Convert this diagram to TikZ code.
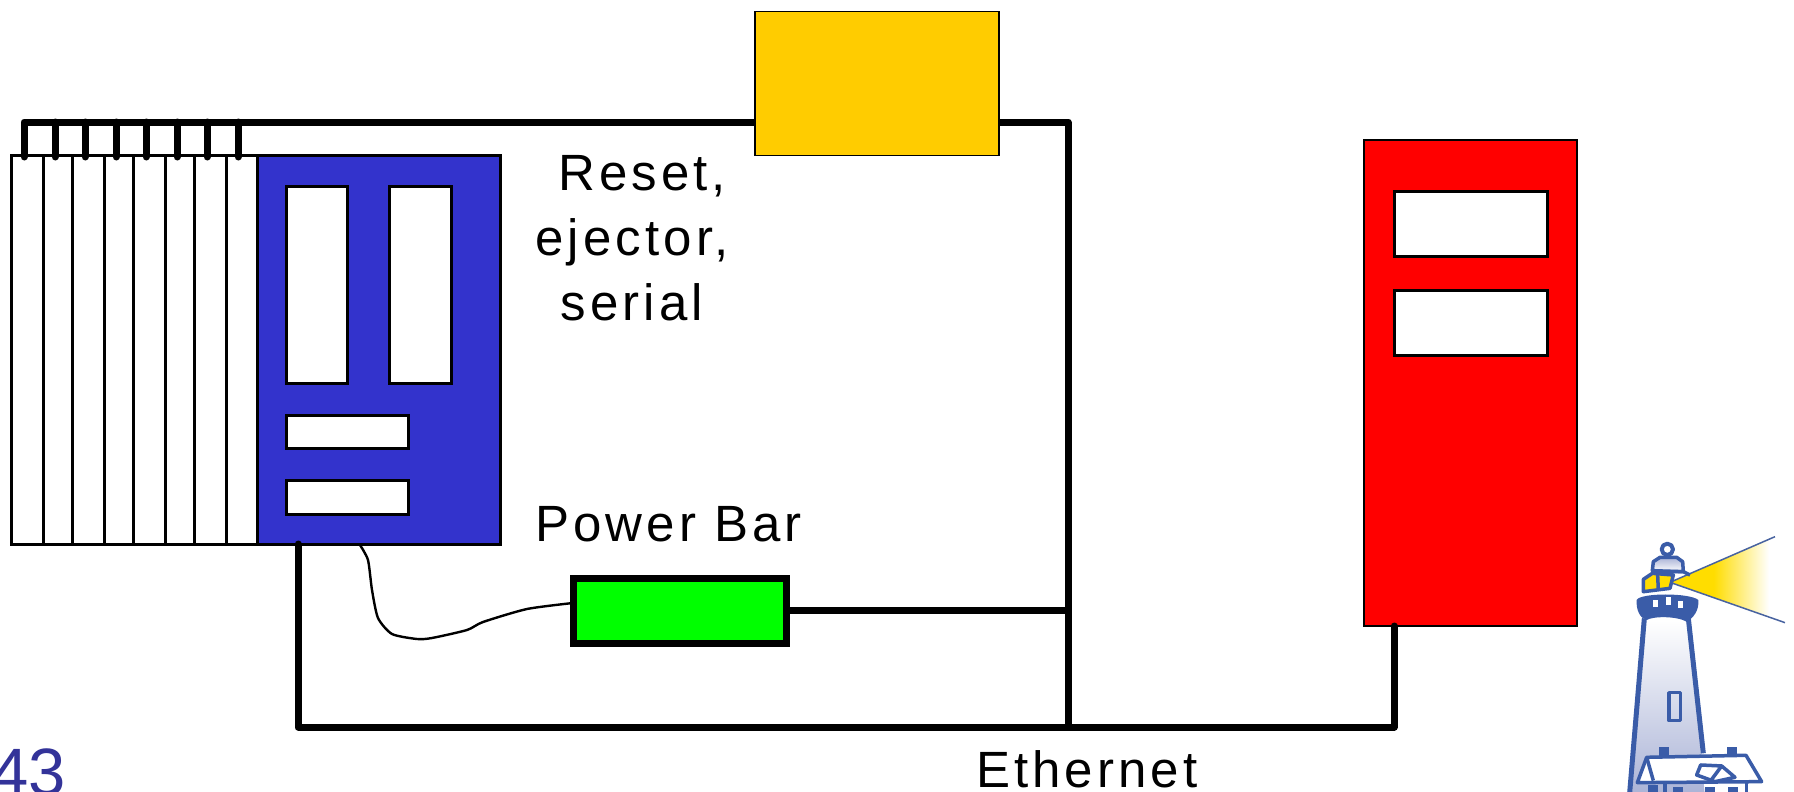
\documentclass[tikz,border=0pt]{standalone}
\usepackage{fontspec}
\setmainfont{Liberation Sans}
\newfontfamily\labelfont[LetterSpace=8]{Liberation Sans}
\usepackage{tikz}
\definecolor{cpublue}{HTML}{3333CC}
\definecolor{pagenum}{HTML}{333399}
\definecolor{boxyellow}{HTML}{FFCC00}
\definecolor{logoblue}{HTML}{3A5CA8}
\definecolor{logoshade}{HTML}{A9B2D6}
\definecolor{logolamp}{HTML}{FFDD00}
\pgfdeclarehorizontalshading{beam}{100bp}{color(0bp)=(logolamp); color(44bp)=(logolamp); color(68bp)=(white); color(100bp)=(white)}
\tikzset{
  box/.style={draw=black,line width=1.5pt,inner sep=0pt,outer sep=0pt,anchor=north west},
  card/.style={box,fill=white,line width=3pt,minimum height=389pt},
  slot/.style={box,fill=white,line width=3pt},
  bus/.style={line width=7pt,line cap=round,line join=round},
  wire/.style={line width=2.4pt},
  label/.style={font=\labelfont\fontsize{51}{65}\selectfont,anchor=base west,inner sep=0pt},
  logoline/.style={draw=logoblue,line width=3.5pt,line join=round}
}

\begin{document}
\begin{tikzpicture}[x=1pt,y=-1pt]
      \clip (0,0) rectangle (1794,792);
      %% Cards in the crate
      \node[card,minimum width=32pt] (c1) at (11,155) {};
      \node[card,minimum width=29pt] (c2) at (c1.north east) {};
      \node[card,minimum width=32pt] (c3) at (c2.north east) {};
      \node[card,minimum width=29pt] (c4) at (c3.north east) {};
      \node[card,minimum width=32pt] (c5) at (c4.north east) {};
      \node[card,minimum width=29pt] (c6) at (c5.north east) {};
      \node[card,minimum width=32pt] (c7) at (c6.north east) {};
      \node[card,minimum width=31pt] (c8) at (c7.north east) {};
      %% Blue controller
      \node[box,fill=cpublue,line width=3pt,minimum width=243pt,minimum height=389pt] (cpu) at (c8.north east) {};
      \node[slot,minimum width=61pt,minimum height=197pt] (s1) at (286,186) {};
      \node[slot,minimum width=62pt,minimum height=197pt] (s2) at (389,186) {};
      \node[slot,minimum width=122pt,minimum height=33pt] (s3) at (286,415) {};
      \node[slot,minimum width=122pt,minimum height=34pt] (s4) at (286,480) {};
      %% Bus over the cards
      \coordinate (tl) at (24,122);
      \coordinate (tr) at (1068,122);
      \coordinate (br) at (1068,727);
      \coordinate (p1) at (24,157);
      \coordinate (p2) at (55,157);
      \coordinate (p3) at (85,157);
      \coordinate (p4) at (116,157);
      \coordinate (p5) at (146,157);
      \coordinate (p6) at (177,157);
      \coordinate (p7) at (207,157);
      \coordinate (p8) at (238,157);
      \draw[bus] (p1) -- (tl) -- (tr) -- (br);
      \draw[bus] (p2) -- (p2 |- tl);
      \draw[bus] (p3) -- (p3 |- tl);
      \draw[bus] (p4) -- (p4 |- tl);
      \draw[bus] (p5) -- (p5 |- tl);
      \draw[bus] (p6) -- (p6 |- tl);
      \draw[bus] (p7) -- (p7 |- tl);
      \draw[bus] (p8) -- (p8 |- tl);
      %% Yellow and red boxes
      \node[box,fill=boxyellow,minimum width=244pt,minimum height=144pt] (ybox) at (755,11.5) {};
      \node[box,fill=red,minimum width=213pt,minimum height=486pt] (rbox) at (1364,140) {};
      \node[slot,minimum width=153pt,minimum height=65pt] (r1) at (1394,191) {};
      \node[slot,minimum width=153pt,minimum height=65pt] (r2) at (1394,290) {};
      %% Power bar
      \node[box,fill=green,line width=7pt,minimum width=213pt,minimum height=65pt] (pbar) at (573,578) {};
      \draw[bus,line cap=butt] (pbar.east) -- (pbar.east -| br);
      \coordinate (wa) at (360,545);
      \coordinate (wb) at (573,603);
      \draw[wire] plot[smooth,tension=0.4] coordinates {(wa) (368,560) (372,590) (378,618) (392,634) (417,639) (432,638) (467,630) (483,622) (527,609) (wb)};
      %% Ethernet
      \coordinate (ea) at (298,544);
      \coordinate (eb) at (1394,727);
      \coordinate (ec) at (1394,626);
      \draw[bus] (ea) -- (ea |- eb) -- (eb) -- (ec);
      %% Labels
      \node[label,align=center,anchor=north] (reset) at (632,155) {\hspace*{20pt}Reset,\\ejector,\\serial};
      \node[label] (power) at (535,541) {Power Bar};
      \node[label] (ether) at (976,787) {Ethernet};
      \node[font=\fontsize{67}{67}\selectfont,text=pagenum,anchor=base west,inner sep=0pt] (page) at (-9,795) {43};
      %% Lighthouse logo
      \begin{scope}[shift={(1590,520)},x=0.3333pt,y=-0.3333pt]
        \shade[shading=beam] (240,187) -- (555,50) -- (585,308) -- cycle;
        \draw[logoblue!80!gray,line width=1.5pt] (555,50) -- (240,187) -- (585,308);
        %% tower
        \shade[top color=white,bottom color=logoshade] (160,300) -- (118,830) -- (345,830) -- (295,300) -- cycle;
        \draw[logoline,line width=5pt] (163,295) -- (118,830);
        \draw[logoline,line width=5pt] (295,295) -- (340,700);
        \draw[logoline] (237,518) rectangle (272,602);
        %% gallery and lantern
        \fill[logoblue] (170,300) .. controls (150,295) and (138,270) .. (140,240) .. controls (150,218) and (300,218) .. (325,240) .. controls (328,270) and (310,295) .. (290,305) .. controls (260,288) and (190,288) .. (170,300) -- cycle;
        \fill[white] (190,240) rectangle (205,262);
        \fill[white] (228,232) rectangle (243,254);
        \fill[white] (263,242) rectangle (278,264);
        \draw[logoline,fill=logolamp] (160,178) -- (160,215) -- (240,205) -- (250,165) -- (187,160) -- cycle;
        \draw[logoline] (203,165) -- (205,212);
        \draw[logoline,top color=logoshade,bottom color=white] (187,152) -- (190,125) -- (210,112) -- (260,112) -- (278,125) -- (280,155) -- cycle;
        \draw[logoline,line width=4pt] (232,88) circle (17);
        \draw[logoline] (187,155) -- (280,155) -- (300,165);
        %% house
        \fill[logoblue] (208,680) rectangle (238,710);
        \fill[logoblue] (410,680) rectangle (440,710);
        \draw[logoline,fill=white] (142,788) -- (170,712) -- (468,706) -- (515,785) -- cycle;
        \draw[logoline] (170,712) -- (190,782);
        \draw[logoline,fill=white] (320,765) -- (332,735) -- (395,738) -- (435,772) -- (375,785) -- cycle;
        \draw[logoline] (395,738) -- (360,785);
        \fill[logoblue] (175,795) rectangle (205,830);
        \fill[logoblue] (250,802) rectangle (280,830);
        \fill[logoblue] (345,800) rectangle (375,830);
        \fill[logoblue] (415,802) rectangle (445,830);
        \draw[logoline] (225,790) -- (225,830);
        \draw[logoline] (470,785) -- (470,830);
      \end{scope}
    \end{tikzpicture}
\end{document}
